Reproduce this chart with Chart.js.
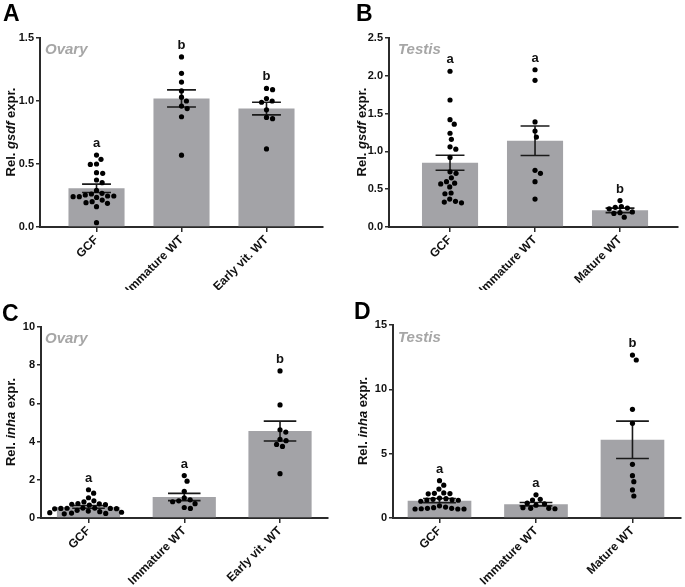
<!DOCTYPE html>
<html>
<head>
<meta charset="utf-8">
<script src="https://cdn.jsdelivr.net/npm/chart.js@4.4.1/dist/chart.umd.min.js"></script>
<style>
body { margin: 0; background: #fff; font-family: 'Liberation Sans', Arial, sans-serif; }
#fig { position: relative; width: 685px; height: 587px; overflow: hidden; }
canvas { position: absolute; }
.letter { position: absolute; font-weight: bold; font-size: 23px; line-height: 1; color: #000; }
.tissue { position: absolute; font-weight: bold; font-style: italic; font-size: 15px; line-height: 1; color: #a6a6a6; }
.ytitle { position: absolute; font-weight: bold; font-size: 13px; white-space: nowrap; color: #111;
          transform: translate(-50%, -50%) rotate(-90deg); }
</style>
</head>
<body>
<div id="fig">
  <canvas id="chartA" width="342" height="290" style="left:0;top:0"></canvas>
  <canvas id="chartB" width="343" height="290" style="left:342px;top:0"></canvas>
  <canvas id="chartC" width="342" height="297" style="left:0;top:290px"></canvas>
  <canvas id="chartD" width="343" height="297" style="left:342px;top:290px"></canvas>

  <div class="letter" style="left:3px;top:2px">A</div>
  <div class="letter" style="left:356px;top:2px">B</div>
  <div class="letter" style="left:2px;top:302px">C</div>
  <div class="letter" style="left:354px;top:300px">D</div>

  <div class="tissue" style="left:45px;top:41px">Ovary</div>
  <div class="tissue" style="left:398px;top:41px">Testis</div>
  <div class="tissue" style="left:45px;top:330px">Ovary</div>
  <div class="tissue" style="left:398px;top:329px">Testis</div>

  <div class="ytitle" style="left:10px;top:132px">Rel. <i>gsdf</i> expr.</div>
  <div class="ytitle" style="left:361px;top:132px">Rel. <i>gsdf</i> expr.</div>
  <div class="ytitle" style="left:10px;top:422px">Rel. <i>inha</i> expr.</div>
  <div class="ytitle" style="left:362px;top:421px">Rel. <i>inha</i> expr.</div>
</div>
<script>
const catsOvary = ['GCF', 'Immature WT', 'Early vit. WT'];
const catsTestis = ['GCF', 'Immature WT', 'Mature WT'];

// A: gsdf, ovary
const gsdfOvaryPoints = [
    [0.571, 0.537, 0.50, 0.497, 0.431, 0.426, 0.373, 0.352, 0.29, 0.267, 0.262, 0.254, 0.246, 0.246,
     0.241, 0.241, 0.235, 0.214, 0.201, 0.193, 0.188, 0.161, 0.034],
    [1.35, 1.22, 1.15, 1.08, 1.03, 1.00, 0.96, 0.94, 0.875, 0.57],
    [1.10, 1.09, 1.02, 1.00, 0.99, 0.93, 0.87, 0.86, 0.62]
];
const gsdfOvaryMean = [0.307, 1.02, 0.94];
const gsdfOvarySem = [0.033, 0.068, 0.05];
const gsdfOvarySig = ['a', 'b', 'b'];
const gsdfOvaryTicks = [0, 0.5, 1.0, 1.5];

// B: gsdf, testis
const gsdfTestisPoints = [
    [2.06, 1.68, 1.42, 1.36, 1.24, 1.16, 1.06, 1.03, 0.92, 0.73, 0.71, 0.65, 0.60, 0.58, 0.57,
     0.53, 0.45, 0.44, 0.37, 0.34, 0.33, 0.32],
    [2.08, 1.94, 1.39, 1.27, 1.19, 0.75, 0.71, 0.60, 0.37],
    [0.35, 0.27, 0.26, 0.25, 0.24, 0.20, 0.19, 0.18, 0.13]
];
const gsdfTestisMean = [0.85, 1.14, 0.22];
const gsdfTestisSem = [0.10, 0.195, 0.03];
const gsdfTestisSig = ['a', 'a', 'b'];
const gsdfTestisTicks = [0, 0.5, 1.0, 1.5, 2.0, 2.5];

// C: inha, ovary
const inhaOvaryPoints = [
    [1.48, 1.30, 1.06, 0.90, 0.84, 0.76, 0.74, 0.72, 0.70, 0.68, 0.52, 0.52, 0.51, 0.50, 0.50,
     0.49, 0.48, 0.40, 0.36, 0.33, 0.30, 0.28, 0.26, 0.24, 0.22],
    [2.22, 1.93, 1.40, 1.05, 0.95, 0.90, 0.85, 0.75, 0.55, 0.50],
    [7.7, 5.92, 4.62, 4.5, 4.12, 4.05, 3.85, 3.75, 2.32]
];
const inhaOvaryMean = [0.58, 1.1, 4.55];
const inhaOvarySem = [0.07, 0.19, 0.52];
const inhaOvarySig = ['a', 'a', 'b'];
const inhaOvaryTicks = [0, 2, 4, 6, 8, 10];

// D: inha, testis
const inhaTestisPoints = [
    [2.9, 2.55, 2.25, 1.95, 1.92, 1.9, 1.88, 1.55, 1.5, 1.45, 1.42, 1.4, 1.38, 1.3, 0.95, 0.85,
     0.8, 0.75, 0.75, 0.72, 0.7, 0.7, 0.7],
    [1.8, 1.45, 1.4, 1.15, 1.1, 1.0, 0.8, 0.75, 0.75, 0.72],
    [12.66, 12.28, 8.45, 7.36, 4.17, 3.29, 2.82, 2.18, 1.71]
];
const inhaTestisMean = [1.35, 1.07, 6.08];
const inhaTestisSem = [0.17, 0.13, 1.45];
const inhaTestisSig = ['a', 'a', 'b'];
const inhaTestisTicks = [0, 5, 10, 15];

const FONT = "'Liberation Sans', Arial, sans-serif";
const AXIS = '#2b2b2b';
const CAP = 0.17;

Chart.defaults.font.family = FONT;
Chart.defaults.font.weight = 'bold';
Chart.defaults.color = '#111';

// letters a/b above each group
function sigPlugin(points, mean, sem, sig) {
    return {
        id: 'sig',
        afterDatasetsDraw(chart) {
            const { ctx, scales: { x, y } } = chart;
            ctx.save();
            ctx.font = 'bold 13px ' + FONT;
            ctx.fillStyle = '#111';
            ctx.textAlign = 'center';
            ctx.textBaseline = 'alphabetic';
            sig.forEach((s, i) => {
                const top = Math.max(...points[i], mean[i] + sem[i]);
                ctx.fillText(s, x.getPixelForValue(i), y.getPixelForValue(top) - 8);
            });
            ctx.restore();
        }
    };
}

// spread dots sideways so they do not overlap
function swarm(chart) {
    const xs = chart.scales.x, ys = chart.scales.y;
    const unit = xs.getPixelForValue(1) - xs.getPixelForValue(0);
    const ds = chart.data.datasets.find(d => d.swarm);
    const gap = 6.2;
    const groups = {};
    ds.data.forEach(p => (groups[p.c] = groups[p.c] || []).push(p));
    Object.values(groups).forEach(list => {
        const placed = [];
        list.slice().sort((a, b) => b.y - a.y).forEach(p => {
            const py = ys.getPixelForValue(p.y);
            const near = placed.filter(q => Math.abs(q.py - py) < gap);
            const cands = [0];
            near.forEach(q => {
                const d = Math.sqrt(gap * gap - (q.py - py) ** 2);
                cands.push(q.dx + d, q.dx - d);
            });
            cands.sort((a, b) => Math.abs(a) - Math.abs(b));
            const dx = cands.find(c => near.every(q => (q.dx - c) ** 2 + (q.py - py) ** 2 >= gap * gap - 0.01));
            placed.push({ dx, py });
            p.x = p.c + dx / unit;
        });
    });
    chart.update('none');
}

function makePanel(p) {
    const errData = [];
    p.mean.forEach((m, i) => {
        const hi = m + p.sem[i], lo = m - p.sem[i];
        errData.push(
            { x: i - CAP, y: hi }, { x: i + CAP, y: hi }, { x: i, y: null },
            { x: i, y: hi }, { x: i, y: lo }, { x: i, y: null },
            { x: i - CAP, y: lo }, { x: i + CAP, y: lo }, { x: i, y: null }
        );
    });
    const dots = p.points.flatMap((vals, i) => vals.map(v => ({ x: i, y: v, c: i })));

    const chart = new Chart(document.getElementById(p.id), {
        type: 'bar',
        data: {
            datasets: [
                {
                    type: 'scatter',
                    swarm: true,
                    data: dots,
                    pointRadius: 2.6,
                    pointBackgroundColor: '#000',
                    pointBorderWidth: 0,
                    order: 1
                },
                {
                    type: 'line',
                    data: errData,
                    borderColor: '#1a1a1a',
                    borderWidth: 1.6,
                    pointRadius: 0,
                    spanGaps: false,
                    order: 2
                },
                {
                    type: 'bar',
                    data: p.mean.map((m, i) => ({ x: i, y: m })),
                    backgroundColor: '#a3a3a7',
                    barPercentage: 0.66,
                    categoryPercentage: 1,
                    order: 3
                }
            ]
        },
        options: {
            responsive: false,
            devicePixelRatio: 1,
            animation: false,
            events: [],
            layout: { padding: { left: 0, top: p.top, right: p.right, bottom: 0 } },
            plugins: { legend: { display: false }, tooltip: { enabled: false } },
            scales: {
                x: {
                    type: 'linear',
                    offset: false,
                    min: p.xMin,
                    max: p.xMax,
                    afterBuildTicks: s => { s.ticks = p.cats.map((c, i) => ({ value: i })); },
                    afterFit: s => { s.height = p.xHeight; },
                    grid: { offset: false, drawOnChartArea: false, drawTicks: true, tickLength: 5, color: AXIS, lineWidth: 1.5 },
                    border: { display: true, color: AXIS, width: 2 },
                    ticks: {
                        autoSkip: false,
                        maxRotation: 45,
                        minRotation: 45,
                        padding: 1,
                        color: '#111',
                        font: { size: 12, weight: 'bold' },
                        callback: v => p.cats[v]
                    }
                },
                y: {
                    min: 0,
                    max: p.ticks[p.ticks.length - 1],
                    afterBuildTicks: s => { s.ticks = p.ticks.map(v => ({ value: v })); },
                    afterFit: s => { s.width = p.yWidth; },
                    grid: { drawOnChartArea: false, drawTicks: true, tickLength: 4, color: AXIS, lineWidth: 1.5 },
                    border: { display: true, color: AXIS, width: 2 },
                    ticks: {
                        padding: 2,
                        color: '#111',
                        font: { size: 11, weight: 'bold' },
                        callback: v => v.toFixed(p.digits)
                    }
                }
            }
        },
        plugins: [sigPlugin(p.points, p.mean, p.sem, p.sig)]
    });
    swarm(chart);
}

makePanel({ id: 'chartA', cats: catsOvary, points: gsdfOvaryPoints, mean: gsdfOvaryMean, sem: gsdfOvarySem,
    sig: gsdfOvarySig, ticks: gsdfOvaryTicks, digits: 1,
    xMin: -0.665, xMax: 2.665, top: 38, right: 19, yWidth: 40, xHeight: 63 });
makePanel({ id: 'chartB', cats: catsTestis, points: gsdfTestisPoints, mean: gsdfTestisMean, sem: gsdfTestisSem,
    sig: gsdfTestisSig, ticks: gsdfTestisTicks, digits: 1,
    xMin: -0.718, xMax: 2.682, top: 38, right: 7, yWidth: 47, xHeight: 63 });
makePanel({ id: 'chartC', cats: catsOvary, points: inhaOvaryPoints, mean: inhaOvaryMean, sem: inhaOvarySem,
    sig: inhaOvarySig, ticks: inhaOvaryTicks, digits: 0,
    xMin: -0.496, xMax: 2.501, top: 37, right: 14, yWidth: 41, xHeight: 69 });
makePanel({ id: 'chartD', cats: catsTestis, points: inhaTestisPoints, mean: inhaTestisMean, sem: inhaTestisSem,
    sig: inhaTestisSig, ticks: inhaTestisTicks, digits: 0,
    xMin: -0.482, xMax: 2.503, top: 35, right: 1, yWidth: 51, xHeight: 69 });
</script>
</body>
</html>
